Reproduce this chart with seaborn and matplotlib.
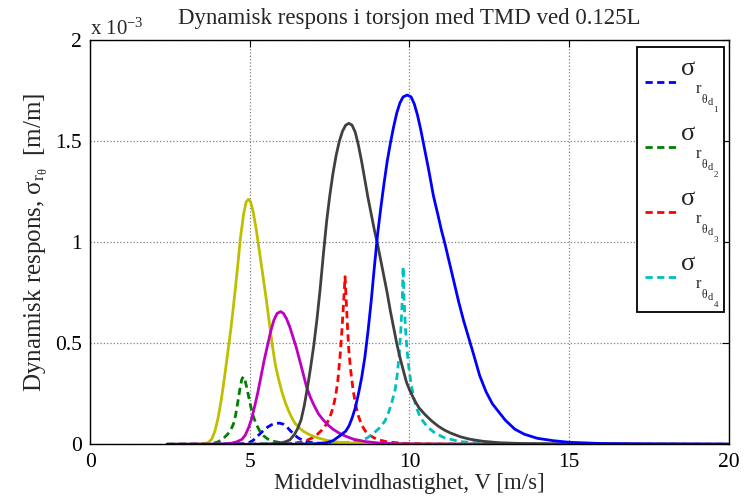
import numpy as np
import matplotlib
matplotlib.use('Agg')
import matplotlib.pyplot as plt
import seaborn as sns

# Values, response in units of 1e-3 m/m
# Dashed: responses with TMD
x_d1 = [2.4, 4.6, 4.8, 5.0, 5.1, 5.2, 5.3, 5.42, 5.55, 5.68, 5.8, 5.92, 6.04, 6.15, 6.25, 6.36, 6.5, 6.65, 6.8, 7.0, 7.5, 8.5, 20.0]
y_d1 = [0.0, 0.001, 0.004, 0.01, 0.02, 0.035, 0.05, 0.068, 0.085, 0.097, 0.103, 0.105, 0.1, 0.087, 0.07, 0.052, 0.033, 0.02, 0.012, 0.007, 0.003, 0.001, 0.0]

x_d2 = [2.4, 3.5, 3.85, 4.0, 4.16, 4.3, 4.4, 4.48, 4.55, 4.62, 4.68, 4.74, 4.79, 4.84, 4.9, 4.96, 5.02, 5.1, 5.2, 5.31, 5.42, 5.55, 5.7, 6.0, 6.5, 7.5, 20.0]
y_d2 = [0.0, 0.001, 0.005, 0.012, 0.028, 0.05, 0.072, 0.1, 0.145, 0.21, 0.27, 0.32, 0.335, 0.32, 0.28, 0.235, 0.19, 0.14, 0.098, 0.065, 0.043, 0.027, 0.016, 0.007, 0.003, 0.001, 0.0]

x_d3 = [2.4, 6.0, 6.4, 6.7, 6.93, 7.1, 7.25, 7.4, 7.51, 7.6, 7.68, 7.75, 7.82, 7.88, 7.93, 7.98, 8.02, 8.06, 8.1, 8.16, 8.24, 8.32, 8.4, 8.5, 8.62, 8.75, 8.97, 9.3, 9.8, 10.5, 12.0, 20.0]
y_d3 = [0.0, 0.002, 0.006, 0.014, 0.03, 0.048, 0.07, 0.1, 0.137, 0.18, 0.235, 0.31, 0.43, 0.56, 0.69, 0.83, 0.7, 0.57, 0.46, 0.36, 0.26, 0.19, 0.14, 0.095, 0.065, 0.045, 0.025, 0.012, 0.005, 0.002, 0.0, 0.0]

x_d4 = [2.4, 7.5, 8.0, 8.4, 8.66, 8.87, 9.05, 9.23, 9.35, 9.45, 9.55, 9.62, 9.68, 9.73, 9.77, 9.8, 9.83, 9.87, 9.92, 9.98, 10.05, 10.12, 10.22, 10.35, 10.54, 10.8, 11.1, 11.6, 12.5, 14.0, 20.0]
y_d4 = [0.0, 0.003, 0.008, 0.018, 0.03, 0.054, 0.08, 0.115, 0.16, 0.21, 0.27, 0.35, 0.45, 0.57, 0.7, 0.879, 0.72, 0.58, 0.47, 0.38, 0.3, 0.24, 0.18, 0.13, 0.09, 0.055, 0.032, 0.013, 0.004, 0.001, 0.0]

# Solid: responses without TMD
x_s1 = [2.4, 3.0, 3.4, 3.6, 3.7, 3.8, 3.9, 4.0, 4.1, 4.2, 4.3, 4.4, 4.5, 4.6, 4.7, 4.8, 4.88, 4.95, 5.02, 5.1, 5.2, 5.3, 5.4, 5.5, 5.6, 5.7, 5.8, 5.9, 6.0, 6.1, 6.2, 6.3, 6.4, 6.55, 6.7, 6.9, 7.1, 7.4, 7.8, 8.5, 9.5, 20.0]
y_s1 = [0.0, 0.0005, 0.001, 0.004, 0.01, 0.025, 0.065, 0.13, 0.22, 0.33, 0.45, 0.57, 0.71, 0.86, 1.02, 1.14, 1.2, 1.213, 1.2, 1.15, 1.06, 0.95, 0.84, 0.73, 0.61, 0.49, 0.39, 0.32, 0.26, 0.21, 0.17, 0.135, 0.107, 0.08, 0.062, 0.045, 0.033, 0.02, 0.01, 0.004, 0.001, 0.0]

x_s2 = [2.4, 4.0, 4.4, 4.6, 4.75, 4.85, 4.95, 5.05, 5.15, 5.25, 5.35, 5.45, 5.55, 5.65, 5.75, 5.85, 5.96, 6.05, 6.15, 6.25, 6.35, 6.45, 6.55, 6.65, 6.78, 6.9, 7.0, 7.15, 7.3, 7.45, 7.6, 7.8, 8.0, 8.25, 8.6, 9.0, 9.5, 10.5, 20.0]
y_s2 = [0.0, 0.001, 0.005, 0.013, 0.025, 0.045, 0.08, 0.125, 0.19, 0.26, 0.34, 0.42, 0.49, 0.56, 0.615, 0.648, 0.657, 0.648, 0.62, 0.58, 0.53, 0.48, 0.42, 0.36, 0.28, 0.23, 0.195, 0.15, 0.12, 0.095, 0.075, 0.055, 0.04, 0.025, 0.014, 0.007, 0.003, 0.001, 0.0]

x_s3 = [2.4, 5.0, 5.6, 5.9, 6.1, 6.25, 6.4, 6.5, 6.6, 6.7, 6.8, 6.9, 7.0, 7.1, 7.2, 7.3, 7.4, 7.5, 7.6, 7.7, 7.8, 7.9, 8.0, 8.1, 8.2, 8.3, 8.4, 8.5, 8.6, 8.7, 8.8, 8.9, 9.0, 9.1, 9.2, 9.3, 9.4, 9.5, 9.6, 9.7, 9.8, 9.9, 10.0, 10.15, 10.3, 10.5, 10.7, 10.9, 11.1, 11.3, 11.6, 11.9, 12.3, 12.8, 13.5, 15.0, 20.0]
y_s3 = [0.0, 0.0, 0.002, 0.005, 0.012, 0.022, 0.05, 0.08, 0.12, 0.19, 0.28, 0.38, 0.49, 0.62, 0.77, 0.94, 1.1, 1.23, 1.34, 1.43, 1.5, 1.55, 1.58, 1.589, 1.58, 1.545, 1.48, 1.4, 1.31, 1.22, 1.14, 1.06, 0.99, 0.91, 0.83, 0.75, 0.66, 0.58, 0.5, 0.43, 0.37, 0.31, 0.27, 0.22, 0.18, 0.145, 0.115, 0.09, 0.07, 0.055, 0.037, 0.025, 0.015, 0.008, 0.004, 0.001, 0.0]

x_s4 = [2.4, 6.0, 7.0, 7.4, 7.6, 7.8, 8.0, 8.1, 8.2, 8.3, 8.4, 8.5, 8.6, 8.7, 8.8, 8.9, 9.0, 9.1, 9.2, 9.3, 9.4, 9.5, 9.6, 9.7, 9.8, 9.93, 10.05, 10.15, 10.25, 10.35, 10.45, 10.6, 10.75, 10.9, 11.0, 11.1, 11.25, 11.4, 11.55, 11.7, 11.85, 12.0, 12.2, 12.4, 12.6, 12.8, 13.0, 13.3, 13.6, 14.0, 14.5, 15.0, 16.0, 17.5, 20.0]
y_s4 = [0.0, 0.0, 0.002, 0.008, 0.018, 0.04, 0.065, 0.09, 0.13, 0.18, 0.25, 0.33, 0.43, 0.56, 0.71, 0.88, 1.04, 1.17, 1.29, 1.4, 1.49, 1.57, 1.64, 1.69, 1.72, 1.729, 1.72, 1.685, 1.63, 1.56, 1.48, 1.36, 1.23, 1.13, 1.06, 1.0, 0.9, 0.8, 0.7, 0.61, 0.53, 0.45, 0.34, 0.26, 0.2, 0.16, 0.12, 0.075, 0.05, 0.03, 0.018, 0.01, 0.004, 0.002, 0.001]

dashed = [(x_d1, y_d1, '#0000FF'),
          (x_d2, y_d2, '#008000'),
          (x_d3, y_d3, '#FF0000'),
          (x_d4, y_d4, '#00BFBF')]
solid = [(x_s1, y_s1, '#BFBF00'),
         (x_s2, y_s2, '#BF00BF'),
         (x_s3, y_s3, '#404040'),
         (x_s4, y_s4, '#0000FF')]
legend_ids = ['1', '2', '3', '4']

sns.set_style('white')
plt.rcParams['font.family'] = ['Liberation Serif', 'DejaVu Serif']
plt.rcParams['mathtext.fontset'] = 'custom'
plt.rcParams['mathtext.rm'] = 'Liberation Serif'
plt.rcParams['mathtext.it'] = 'Liberation Serif'
plt.rcParams['mathtext.bf'] = 'Liberation Serif:bold'

W, H = 744, 499
fig = plt.figure(figsize=(W / 100, H / 100), dpi=100)
ax = fig.add_axes([0.1216, 0.1096, 0.8576, 0.8096])

handles = []
for xs, ys, c in dashed:
    sns.lineplot(x=xs, y=ys, ax=ax, color=c, linestyle='--', linewidth=2.0,
                 estimator=None, sort=False)
    ln = ax.lines[-1]
    ln.set_dashes((2.6, 1.6))
    handles.append(ln)
for xs, ys, c in solid:
    sns.lineplot(x=xs, y=ys, ax=ax, color=c, linewidth=2.0,
                 estimator=None, sort=False)

ax.set_xlim(0, 20)
ax.set_ylim(0, 2)
ax.set_xticks([0, 5, 10, 15, 20])
ax.set_yticks([0, 0.5, 1, 1.5, 2])
ax.set_yticklabels(['0', '0.5', '1', '1.5', '2'])
ax.tick_params(direction='in', length=5, width=0.8, top=True, right=True,
               labelsize=15.5, colors='black', pad=6)
ax.grid(True, linestyle=':', color='#808080', linewidth=0.9)
for s in ax.spines.values():
    s.set_color('black')
    s.set_linewidth(1.0)

ax.set_title('Dynamisk respons i torsjon med TMD ved 0.125L', fontsize=16.5, pad=12)
ax.set_xlabel('Middelvindhastighet, V [m/s]', fontsize=16.5, labelpad=1)
ax.set_ylabel(r'Dynamisk respons, $\sigma_{r_{\theta}}$  [m/m]', fontsize=18, labelpad=4)
ax.text(0.0, 1.013, r'x 10$^{-3}$', transform=ax.transAxes, fontsize=15,
        ha='left', va='baseline')

# legend box with the dashed samples; labels are set as stacked text below
leg = ax.legend(handles, [''] * 4, loc='upper right', bbox_to_anchor=(0.993, 0.9834),
                borderaxespad=0, fontsize=10, handlelength=2.38, handleheight=5.7,
                labelspacing=0.73, borderpad=0.55, handletextpad=2.79,
                frameon=True, fancybox=False, edgecolor='black', framealpha=1)
leg.get_frame().set_linewidth(1.3)
# drop the samples a little, to sit just under the sigma as in the reference
for l in leg.get_lines():
    l.set_ydata(np.asarray(l.get_ydata()) - 8.6)

def put(px, py, s, size):
    fig.text(px / W, 1 - py / H, s, fontsize=size, ha='left', va='baseline')

for i, k in enumerate(legend_ids):
    dy = 65 * i
    put(681, 75 + dy, '\u03c3', 19)
    put(696, 93 + dy, 'r', 12)
    put(701.5, 103 + dy, '\u03b8', 8.5)
    put(708, 105 + dy, 'd', 7.5)
    put(713.5, 112 + dy, k, 6.5)

fig.savefig('out.png', dpi=100)
